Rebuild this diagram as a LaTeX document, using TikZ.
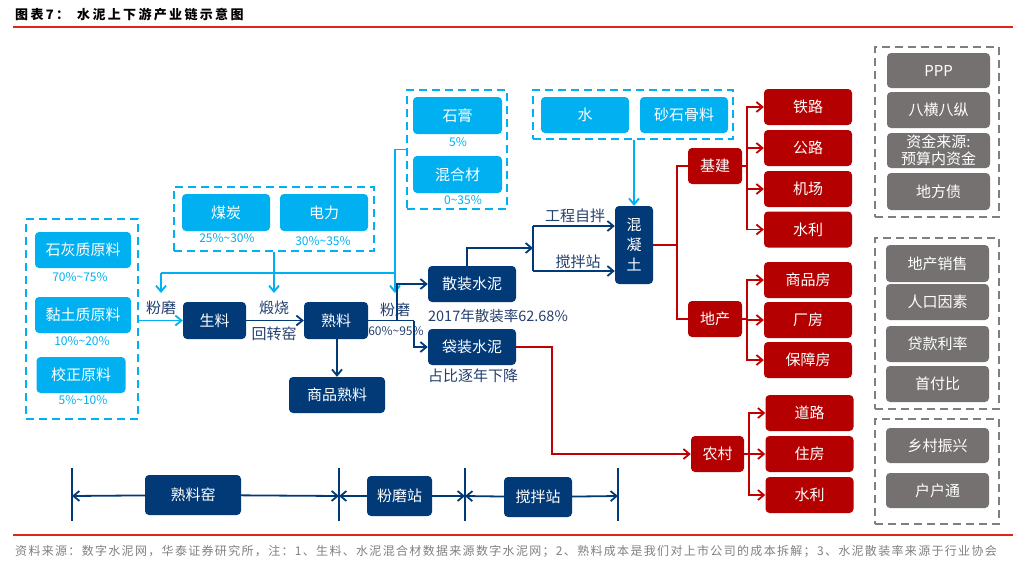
\documentclass[tikz,border=0pt]{standalone}
\usepackage{fontspec}
\setmainfont{Noto Sans CJK SC}
\newfontfamily\titlefont[LetterSpace=18]{Noto Sans CJK SC}
\newfontfamily\notefont[LetterSpace=11]{Noto Sans CJK SC}
\usepackage{tikz}
\usetikzlibrary{arrows.meta}
\definecolor{skyblue}{HTML}{00B0F0}
\definecolor{navy}{HTML}{023A78}
\definecolor{inkblue}{HTML}{24406F}
\definecolor{darkred}{HTML}{B40000}
\definecolor{linered}{HTML}{C00000}
\definecolor{boxgrey}{HTML}{767171}
\definecolor{fencegrey}{HTML}{7F7F7F}
\definecolor{rulered}{HTML}{E2231A}
\definecolor{notegrey}{HTML}{808080}
\tikzset{
	box/.style={rounded corners=4pt, text=white, inner sep=0pt, minimum width=88, minimum height=36, align=center, font=\fontsize{15}{17}\selectfont},
	bluebox/.style={box, fill=skyblue},
	navybox/.style={box, fill=navy},
	redbox/.style={box, fill=darkred},
	greybox/.style={box, fill=boxgrey, minimum width=103},
	bluefence/.style={draw=skyblue, line width=2pt, dash pattern=on 8pt off 5pt, inner sep=0pt},
	greyfence/.style={draw=fencegrey, line width=2pt, dash pattern=on 8pt off 5pt, inner sep=0pt, minimum width=124},
	share/.style={text=skyblue, inner sep=0pt, font=\fontsize{12}{13}\selectfont},
	label/.style={text=inkblue, inner sep=0pt, font=\fontsize{15}{17}\selectfont},
	tip/.style={-{Straight Barb[length=6pt,width=10pt]}},
	blueline/.style={draw=skyblue, line width=1.8pt},
	navyline/.style={draw=navy, line width=1.8pt},
	redline/.style={draw=linered, line width=1.8pt},
	rule/.style={draw=rulered, line width=2pt}
}

\begin{document}
\begin{tikzpicture}[x=1pt, y=-1pt]
		%%%%% START %%%%%
		\useasboundingbox (0,0) rectangle (1034,571);
		
		\node[anchor=west, inner sep=0pt, font=\titlefont\fontsize{13}{14}\selectfont\bfseries] (fig) at (15,15) {图表7：};
		\node[anchor=west, inner sep=0pt, font=\titlefont\fontsize{13}{14}\selectfont\bfseries] (caption) at (77,15) {水泥上下游产业链示意图};
		\draw[rule] (13,27) -- (1013,27);
		
		\node[bluefence, minimum width=112, minimum height=200] (raw) at (82,319) {};
		\node[bluebox, minimum width=96] (lime) at (83,250) {石灰质原料};
		\node[share] (limep) at (80,277) {70\%\textasciitilde75\%};
		\node[bluebox, minimum width=96] (clay) at (83,315) {黏土质原料};
		\node[share] (clayp) at (82,341) {10\%\textasciitilde20\%};
		\node[bluebox, minimum width=89] (fix) at (81,375) {校正原料};
		\node[share] (fixp) at (83,400) {5\%\textasciitilde10\%};
		
		\node[bluefence, minimum width=200, minimum height=64] (fuel) at (274,219) {};
		\node[bluebox, minimum height=37] (coal) at (226,212.5) {煤炭};
		\node[share] (coalp) at (227,238) {25\%\textasciitilde30\%};
		\node[bluebox, minimum height=37] (power) at (324,212.5) {电力};
		\node[share] (powerp) at (323,241) {30\%\textasciitilde35\%};
		
		\node[bluefence, minimum width=100, minimum height=119] (addin) at (457,149.5) {};
		\node[bluebox, minimum width=89, minimum height=37] (gyp) at (457.5,115.5) {石膏};
		\node[share] (gypp) at (458,142) {5\%};
		\node[bluebox, minimum width=89, minimum height=37] (mix) at (457.5,174.5) {混合材};
		\node[share] (mixp) at (463,200) {0\textasciitilde35\%};
		
		\node[bluefence, minimum width=200, minimum height=49] (wet) at (633,114.5) {};
		\node[bluebox] (water) at (585,115) {水};
		\node[bluebox] (sand) at (684,115) {砂石骨料};
		
		\node[navybox, minimum width=63, minimum height=37] (meal) at (214.5,320.5) {生料};
		\node[navybox, minimum width=64, minimum height=37] (clinker) at (336,320.5) {熟料};
		\node[navybox, minimum width=96] (sale) at (337,395) {商品熟料};
		\node[navybox] (bulk) at (472,284) {散装水泥};
		\node[navybox] (bag) at (472,347) {袋装水泥};
		\node[navybox, minimum width=38, minimum height=78, font=\fontsize{15}{20}\selectfont] (concrete) at (634,245) {混\\凝\\土};
		
		\node[label] (grind) at (161,308) {粉磨};
		\node[label] (burn) at (274,308) {煅烧};
		\node[label] (rotary) at (274,334) {回转窑};
		\node[label] (regrind) at (395,310) {粉磨};
		\node[label, font=\fontsize{12}{13}\selectfont] (regrindp) at (396,331) {60\%\textasciitilde95\%};
		\node[label, font=\fontsize{14.5}{16}\selectfont] (ratio) at (498,316) {2017年散装率62.68\%};
		\node[label] (fall) at (473,376) {占比逐年下降};
		\node[label] (self) at (575,216) {工程自拌};
		\node[label] (station) at (578,262) {搅拌站};
		
		%% light blue feeds
		\coordinate (a1) at (161,293);
		\coordinate (a2) at (274,293);
		\coordinate (a3) at (395,293);
		\coordinate (bj) at (161,273);
		\draw[blueline, tip] (raw.east |- meal) -- (meal.west);
		\draw[blueline, tip] (fuel.south) -- (a2);
		\draw[blueline] (bj) -- (bj -| a3);
		\draw[blueline, tip] (bj) -- (a1);
		\draw[blueline, tip] (addin.west) -| (a3);
		\draw[blueline, tip] (wet.south -| concrete.north) -- (concrete.north);
		
		%% navy flow
		\coordinate (fm1) at (397,320.5);
		\coordinate (fm2) at (414,320.5);
		\coordinate (hj) at (533,248);
		\coordinate (gc) at (533,226);
		\coordinate (jb) at (533,271);
		\draw[navyline, tip] (meal.east) -- (clinker.west);
		\draw[navyline, tip] (clinker.south -| sale.north) -- (sale.north);
		\draw[navyline] (clinker.east) -- (fm2);
		\draw[navyline, tip] (fm1) |- (bulk.west);
		\draw[navyline, tip] (fm2) |- (bag.west);
		\draw[navyline, tip] ([xshift=-5pt]bulk.north) |- (hj);
		\draw[navyline] (gc) -- (jb);
		\draw[navyline, tip] (gc) -- (gc -| concrete.west);
		\draw[navyline, tip] (jb) -- (jb -| concrete.west);
		
		%% red demand side
		\node[redbox, minimum width=54] (infra) at (715,166) {基建};
		\node[redbox, minimum width=54] (estate) at (715,319) {地产};
		\node[redbox, minimum width=53] (rural) at (717.5,454) {农村};
		\node[redbox] (rail) at (808,107) {铁路};
		\node[redbox] (road) at (808,148) {公路};
		\node[redbox] (airport) at (808,189) {机场};
		\node[redbox] (dam) at (808,229.5) {水利};
		\node[redbox] (house) at (808,280) {商品房};
		\node[redbox] (plant) at (808,320) {厂房};
		\node[redbox] (afford) at (808,360) {保障房};
		\node[redbox] (lane) at (809.5,413) {道路};
		\node[redbox] (home) at (809.5,454) {住房};
		\node[redbox] (canal) at (809.5,495) {水利};
		
		\coordinate (rj) at (677,245);
		\coordinate (jj) at (747,166);
		\coordinate (dj) at (747,319);
		\coordinate (nj) at (552,347);
		\coordinate (cj) at (749,454);
		\draw[redline] (concrete.east) -- (rj);
		\draw[redline] (infra.west) -| (rj) |- (estate.west);
		\draw[redline] (infra.east) -- (jj);
		\foreach \n in {rail,road,airport,dam}
			\draw[redline, tip] (jj) |- (\n.west);
		\draw[redline] (estate.east) -- (dj);
		\foreach \n in {house,plant,afford}
			\draw[redline, tip] (dj) |- (\n.west);
		\draw[redline, tip] (bag.east) -- (nj) |- (rural.west);
		\draw[redline] (rural.east) -- (cj);
		\foreach \n in {lane,home,canal}
			\draw[redline, tip] (cj) |- (\n.west);
		
		%% grey drivers
		\node[greyfence, minimum height=170] (g1) at (937,132) {};
		\node[greybox, minimum height=35] (ppp) at (938.5,70.5) {PPP};
		\node[greybox] (grid) at (938.5,110) {八横八纵};
		\node[greybox, minimum height=35] (fund) at (938.5,150.5) {资金来源:\\预算内资金};
		\node[greybox, minimum height=37] (bond) at (938.5,191.5) {地方债};
		\node[greyfence, minimum height=171] (g2) at (937,323.5) {};
		\node[greybox, minimum height=37] (sales) at (937.5,263.5) {地产销售};
		\node[greybox] (people) at (937.5,302) {人口因素};
		\node[greybox] (loan) at (937.5,344) {贷款利率};
		\node[greybox] (down) at (937.5,384) {首付比};
		\node[greyfence, minimum height=105] (g3) at (937,471.5) {};
		\node[greybox, minimum height=35] (revive) at (937.5,445.5) {乡村振兴};
		\node[greybox, minimum height=35] (link) at (937.5,490.5) {户户通};
		
		%% plant span
		\node[navybox, minimum width=96, minimum height=40] (kiln) at (193,495) {熟料窑};
		\node[navybox, minimum width=65, minimum height=40] (mill) at (399.5,496) {粉磨站};
		\node[navybox, minimum width=68, minimum height=40] (mixer) at (538,497) {搅拌站};
		\foreach \t/\x in {t1/72,t2/339,t3/465,t4/618} {
			\coordinate (\t) at (\x,496);
			\draw[navyline] (\x,468) -- (\x,521);
		}
		\draw[navyline, tip] (kiln) -- (t1);
		\draw[navyline, tip] (kiln) -- (t2);
		\draw[navyline, tip] (mill) -- (t2);
		\draw[navyline, tip] (mill) -- (t3);
		\draw[navyline, tip] (mixer) -- (t3);
		\draw[navyline, tip] (mixer) -- (t4);
		
		\draw[rule] (13,535) -- (1013,535);
		\node[anchor=west, inner sep=0pt, text=notegrey, font=\notefont\fontsize{12}{13}\selectfont] (source) at (15,551) {资料来源：数字水泥网，华泰证券研究所，注：1、生料、水泥混合材数据来源数字水泥网；2、熟料成本是我们对上市公司的成本拆解；3、水泥散装率来源于行业协会};
		
		%%%%% END %%%%%
	\end{tikzpicture}
\end{document}
